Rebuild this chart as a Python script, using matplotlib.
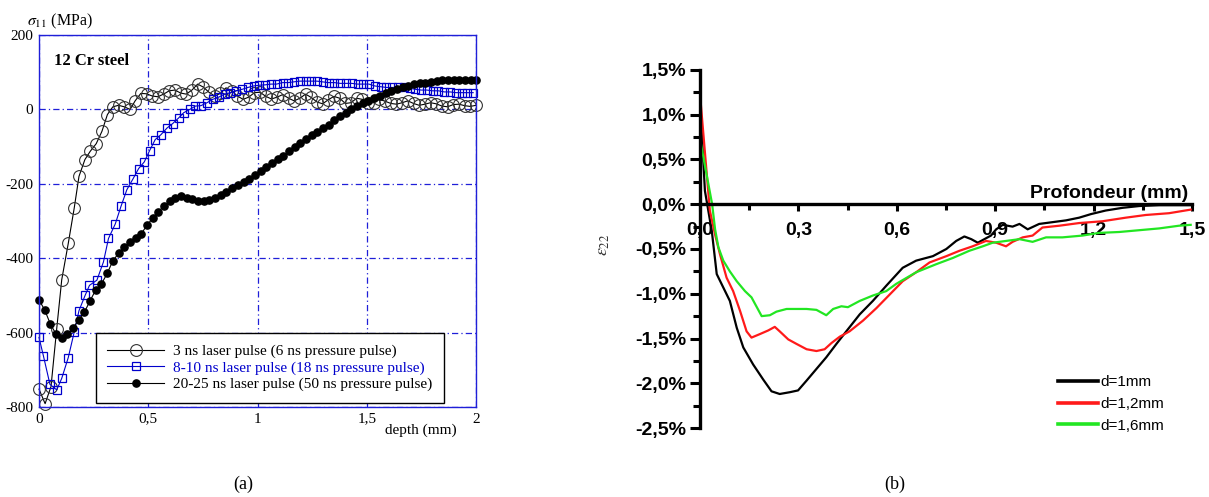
import matplotlib
matplotlib.use("Agg")
import matplotlib.pyplot as plt

plt.rcParams['mathtext.fontset'] = 'stix'

# ---- (a) residual stress vs depth, 12 Cr steel ----
depth_3ns = [0.0, 0.028, 0.055, 0.081, 0.104, 0.134, 0.161, 0.183, 0.21, 0.234,
             0.262, 0.288, 0.313, 0.338, 0.364, 0.39, 0.417, 0.44, 0.466, 0.492,
             0.518, 0.544, 0.57, 0.596, 0.622, 0.648, 0.674, 0.70, 0.726, 0.752,
             0.778, 0.804, 0.83, 0.856, 0.882, 0.908, 0.934, 0.96, 0.986, 1.012,
             1.038, 1.064, 1.09, 1.116, 1.142, 1.168, 1.194, 1.22, 1.246, 1.272,
             1.298, 1.324, 1.35, 1.376, 1.402, 1.428, 1.454, 1.48, 1.506, 1.532,
             1.558, 1.584, 1.61, 1.636, 1.662, 1.688, 1.714, 1.74, 1.766, 1.792,
             1.818, 1.844, 1.87, 1.896, 1.922, 1.948, 1.974, 2.0]
stress_3ns = [-752, -791, -745, -590, -458, -360, -266, -180, -135, -113,
              -92, -59, -14, 7, 11, 7, 0, 23, 43, 42,
              36, 34, 41, 50, 52, 44, 41, 52, 68, 60,
              46, 36, 43, 58, 50, 36, 27, 33, 45, 46,
              35, 28, 33, 40, 30, 23, 30, 41, 32, 20,
              15, 26, 35, 30, 16, 18, 30, 27, 17, 18,
              27, 22, 16, 14, 18, 23, 16, 11, 14, 18,
              15, 9, 7, 13, 14, 10, 8, 11]

depth_8ns = [0.0, 0.02, 0.05, 0.081, 0.104, 0.134, 0.161, 0.183, 0.211, 0.231,
             0.265, 0.295, 0.318, 0.349, 0.375, 0.402, 0.43, 0.456, 0.482, 0.506,
             0.532, 0.558, 0.586, 0.612, 0.639, 0.662, 0.69, 0.716, 0.741, 0.769,
             0.795, 0.823, 0.849, 0.876, 0.902, 0.93, 0.956, 0.982, 1.008, 1.035,
             1.061, 1.087, 1.115, 1.14, 1.166, 1.193, 1.22, 1.246, 1.272, 1.298,
             1.325, 1.352, 1.378, 1.405, 1.431, 1.458, 1.484, 1.51, 1.537, 1.563,
             1.59, 1.616, 1.643, 1.669, 1.696, 1.722, 1.749, 1.775, 1.802, 1.828,
             1.855, 1.881, 1.908, 1.934, 1.96, 1.987]
stress_8ns = [-613, -662, -739, -754, -723, -667, -599, -541, -500, -473,
              -459, -410, -347, -308, -261, -216, -187, -159, -141, -111,
              -81, -68, -50, -38, -23, -9, 0, 9, 10, 18,
              27, 33, 41, 45, 50, 54, 59, 63, 65, 66,
              68, 68, 72, 72, 74, 76, 76, 76, 76, 74,
              72, 72, 70, 70, 70, 68, 68, 68, 63, 61,
              59, 59, 59, 59, 57, 54, 52, 52, 50, 50,
              47, 47, 45, 45, 45, 45]

depth_20ns = [0.0, 0.026, 0.052, 0.078, 0.104, 0.13, 0.156, 0.182, 0.208, 0.234,
              0.26, 0.286, 0.312, 0.338, 0.364, 0.39, 0.416, 0.442, 0.468, 0.494,
              0.52, 0.546, 0.572, 0.598, 0.624, 0.65, 0.676, 0.702, 0.728, 0.754,
              0.78, 0.806, 0.832, 0.858, 0.884, 0.91, 0.936, 0.962, 0.988, 1.014,
              1.04, 1.066, 1.092, 1.118, 1.144, 1.17, 1.196, 1.222, 1.248, 1.274,
              1.3, 1.326, 1.352, 1.378, 1.404, 1.43, 1.456, 1.482, 1.508, 1.534,
              1.56, 1.586, 1.612, 1.638, 1.664, 1.69, 1.716, 1.742, 1.768, 1.794,
              1.82, 1.846, 1.872, 1.898, 1.924, 1.95, 1.976, 2.0]
stress_20ns = [-512, -539, -577, -604, -615, -605, -587, -566, -545, -514,
               -485, -469, -441, -407, -387, -370, -357, -347, -334, -312,
               -292, -275, -260, -247, -239, -234, -237, -242, -245, -245,
               -243, -237, -230, -222, -212, -204, -195, -186, -176, -166,
               -155, -143, -133, -124, -113, -102, -90, -80, -69, -60,
               -50, -41, -29, -19, -9, 2, 10, 16, 23, 31,
               37, 44, 49, 55, 60, 64, 68, 70, 72, 74,
               76, 78, 78, 79, 79, 79, 79, 79]

labels_a = ['3 ns laser pulse (6 ns pressure pulse)',
            '8-10 ns laser pulse (18 ns pressure pulse)',
            '20-25 ns laser pulse (50 ns pressure pulse)']
xticks_a = [0, 0.5, 1, 1.5, 2]
xticklabels_a = ['0', '0,5', '1', '1,5', '2']
yticks_a = [200, 0, -200, -400, -600, -800]
yticklabels_a = ['200', '0', '-200', '-400', '-600', '-800']

# ---- (b) strain eps22 vs depth ----
x_d10 = [0.003, 0.015, 0.036, 0.051, 0.071, 0.091, 0.112, 0.132, 0.162, 0.193,
         0.218, 0.243, 0.274, 0.299, 0.325, 0.355, 0.385, 0.416, 0.446, 0.487,
         0.527, 0.568, 0.618, 0.659, 0.710, 0.751, 0.781, 0.806, 0.827, 0.847,
         0.867, 0.887, 0.903, 0.923, 0.953, 0.974, 0.999, 1.034, 1.075, 1.116,
         1.156, 1.192, 1.237, 1.288, 1.339, 1.40, 1.496]
e_d10 = [0.95, 0.15, -0.30, -0.78, -0.93, -1.08, -1.38, -1.60, -1.79, -1.96,
         -2.09, -2.12, -2.10, -2.08, -1.97, -1.84, -1.71, -1.56, -1.42, -1.23,
         -1.08, -0.91, -0.71, -0.63, -0.58, -0.50, -0.41, -0.36, -0.39, -0.43,
         -0.39, -0.35, -0.28, -0.23, -0.25, -0.22, -0.28, -0.22, -0.20, -0.18,
         -0.15, -0.11, -0.07, -0.04, -0.02, -0.01, -0.01]

x_d12 = [0.003, 0.030, 0.046, 0.061, 0.081, 0.101, 0.122, 0.142, 0.157, 0.183,
         0.208, 0.228, 0.243, 0.269, 0.294, 0.325, 0.355, 0.380, 0.401, 0.426,
         0.456, 0.497, 0.538, 0.578, 0.618, 0.659, 0.700, 0.751, 0.791, 0.831,
         0.872, 0.903, 0.933, 0.953, 0.984, 1.014, 1.044, 1.095, 1.156, 1.227,
         1.298, 1.359, 1.430, 1.496]
e_d12 = [1.10, -0.07, -0.34, -0.56, -0.82, -0.97, -1.19, -1.42, -1.49, -1.45,
         -1.41, -1.37, -1.42, -1.51, -1.56, -1.62, -1.64, -1.62, -1.55, -1.48,
         -1.42, -1.30, -1.16, -1.01, -0.86, -0.76, -0.65, -0.58, -0.52, -0.47,
         -0.41, -0.43, -0.47, -0.42, -0.37, -0.35, -0.26, -0.24, -0.21, -0.19,
         -0.15, -0.12, -0.10, -0.06]

x_d16 = [0.003, 0.037, 0.046, 0.056, 0.071, 0.091, 0.112, 0.137, 0.157, 0.188,
         0.213, 0.233, 0.264, 0.294, 0.325, 0.355, 0.385, 0.406, 0.431, 0.451,
         0.487, 0.527, 0.568, 0.598, 0.659, 0.720, 0.771, 0.821, 0.862, 0.892,
         0.933, 0.974, 1.014, 1.055, 1.105, 1.166, 1.217, 1.278, 1.339, 1.400,
         1.460, 1.496]
e_d16 = [0.67, 0.0, -0.28, -0.48, -0.63, -0.75, -0.86, -0.97, -1.04, -1.25,
         -1.24, -1.20, -1.17, -1.17, -1.17, -1.18, -1.24, -1.17, -1.14, -1.15,
         -1.08, -1.02, -0.97, -0.89, -0.76, -0.67, -0.60, -0.52, -0.47, -0.43,
         -0.41, -0.39, -0.42, -0.37, -0.37, -0.35, -0.32, -0.31, -0.29, -0.27,
         -0.24, -0.23]

labels_b = ['d=1mm', 'd=1,2mm', 'd=1,6mm']
xticks_b = [0.0, 0.3, 0.6, 0.9, 1.2, 1.5]
xticklabels_b = ['0,0', '0,3', '0,6', '0,9', '1,2', '1,5']
yticks_b = [1.5, 1.0, 0.5, 0.0, -0.5, -1.0, -1.5, -2.0, -2.5]
yticklabels_b = ['1,5%', '1,0%', '0,5%', '0,0%', '-0,5%', '-1,0%', '-1,5%', '-2,0%', '-2,5%']

W, H = 1209, 497
fig = plt.figure(figsize=(W / 100, H / 100), dpi=100)
serif = 'Liberation Serif'
sans = 'Liberation Sans'
blue = '#1f1fd8'

# left panel
axa = fig.add_axes([39 / W, 1 - 407 / H, 437 / W, 372 / H])
axa.plot(depth_3ns, stress_3ns, '-o', color='black', lw=0.8, ms=8.5,
         mfc='none', mec='#333333', mew=0.8, label=labels_a[0], clip_on=False)
axa.plot(depth_8ns, stress_8ns, '-s', color='#0000cc', lw=0.8, ms=5.5,
         mfc='none', mec='#0000cc', mew=0.9, label=labels_a[1], clip_on=False)
axa.plot(depth_20ns, stress_20ns, '-o', color='black', lw=0.8, ms=5.2,
         mfc='black', mec='black', label=labels_a[2], clip_on=False)
axa.set_xlim(0, 2)
axa.set_ylim(-800, 200)
axa.set_xticks(xticks_a)
axa.set_xticklabels(xticklabels_a, family=serif, fontsize=11)
axa.set_yticks(yticks_a)
axa.set_yticklabels(yticklabels_a, family=serif, fontsize=11)
axa.tick_params(length=0, pad=4)
axa.grid(True, color=blue, lw=0.9, ls=(0, (5, 2.5, 1, 2.5)))
for s in axa.spines.values():
    s.set_color(blue)
    s.set_linewidth(1.0)
leg = axa.legend(loc='lower left', bbox_to_anchor=(0.13, 0.011), borderaxespad=0,
                 prop={'family': serif, 'size': 11}, handlelength=3.7,
                 handletextpad=0.6, labelspacing=0.18, borderpad=0.75,
                 fancybox=False, edgecolor='black', framealpha=1)
leg.get_frame().set_linewidth(1.0)
leg.set_zorder(5)
leg.get_texts()[1].set_color('#0000cc')
axa.text(0.035, 0.93, '12 Cr steel', transform=axa.transAxes, family=serif,
         fontweight='bold', fontsize=12, va='center', ha='left')
fig.text(27 / W, 1 - 21 / H, r'$\sigma_{11}$ (MPa)', family=serif, fontsize=11.5,
         va='center', ha='left')
fig.text(385 / W, 1 - 430 / H, 'depth (mm)', family=serif, fontsize=11,
         va='center', ha='left')

# right panel
axb = fig.add_axes([700 / W, 1 - 428 / H, 492 / W, 358 / H])
axb.plot(x_d10, e_d10, color='black', lw=1.6, label=labels_b[0])
axb.plot(x_d12, e_d12, color='#ff1a1a', lw=1.6, label=labels_b[1])
axb.plot(x_d16, e_d16, color='#22e622', lw=1.6, label=labels_b[2])
axb.set_xlim(0, 1.5)
axb.set_ylim(-2.5, 1.5)
axb.spines['top'].set_visible(False)
axb.spines['right'].set_visible(False)
axb.spines['bottom'].set_position(('data', 0))
axb.spines['bottom'].set_linewidth(2.4)
axb.spines['left'].set_linewidth(2.4)
axb.set_xticks(xticks_b)
axb.set_xticks([0.15, 0.45, 0.75, 1.05, 1.35], minor=True)
axb.set_xticklabels(xticklabels_b, family=sans, fontweight='bold', fontsize=14)
axb.set_yticks(yticks_b)
axb.set_yticks([1.25, 0.75, 0.25, -0.25, -0.75, -1.25, -1.75, -2.25], minor=True)
axb.set_yticklabels(yticklabels_b, family=sans, fontweight='bold', fontsize=14)
axb.tick_params(axis='x', which='major', direction='out', length=5, width=2.2, pad=8)
axb.tick_params(axis='x', which='minor', direction='out', length=4, width=2.2)
axb.tick_params(axis='y', which='major', direction='out', length=7, width=2.2, pad=3)
axb.tick_params(axis='y', which='minor', direction='out', length=5, width=2.2)
axb.text(1.49, 0.02, 'Profondeur (mm)', family=sans, fontweight='bold',
         fontsize=14, ha='right', va='bottom')
fig.text(603 / W, 1 - 245 / H, r'$\varepsilon_{22}$', fontsize=13,
         rotation=90, va='center', ha='center', color='#333333')
legb = axb.legend(loc='upper left', bbox_to_anchor=(0.7276, 0.147), borderaxespad=0,
                  borderpad=0, frameon=False, handlelength=2.6, handletextpad=0.15,
                  labelspacing=0.5, prop={'family': sans, 'size': 11})
for h in legb.get_lines():
    h.set_linewidth(2.6)

# panel captions
fig.text(243 / W, 1 - 484 / H, '(a)', family=serif, fontsize=13, ha='center', va='center')
fig.text(895 / W, 1 - 484 / H, '(b)', family=serif, fontsize=13, ha='center', va='center')

fig.savefig('out.png', dpi=100)
